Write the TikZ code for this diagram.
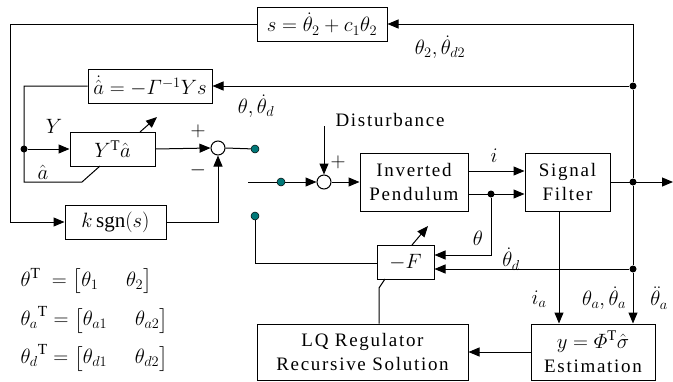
\documentclass[tikz,border=0pt]{standalone}
\usepackage{amsmath}
\usepackage{fontspec}
\setmainfont{Liberation Serif}
\newfontfamily\boxfont[LetterSpace=9]{Liberation Serif}
\usetikzlibrary{arrows.meta}
\definecolor{tealdot}{RGB}{0,120,120}
\tikzset{
  blk/.style={draw, line width=1pt, inner sep=0pt, align=center},
  arr/.style={-{Triangle[length=11pt,width=9pt]}},
  ln/.style={line width=1pt},
  sumc/.style={draw, circle, line width=1pt, minimum size=14pt, inner sep=0pt, fill=white},
  bdot/.style={circle, fill=black, minimum size=7pt, inner sep=0pt},
  tdot/.style={circle, fill=tealdot, draw=black, line width=0.5pt, minimum size=8pt, inner sep=0pt},
  mlab/.style={font=\fontsize{20}{22}\selectfont, inner sep=0pt},
  bmath/.style={font=\fontsize{21}{23}\selectfont},
  btext/.style={font=\boxfont\fontsize{19}{24}\selectfont},
  eqlab/.style={anchor=west, inner sep=0pt, font=\fontsize{22}{24}\selectfont}
}
\begin{document}
\begin{tikzpicture}[x=1pt,y=-1pt, line width=1pt]
\useasboundingbox (0,0) rectangle (673,381);
% boxes
\node[blk, bmath, minimum width=130pt, minimum height=34pt] (sbox) at (322,24) {$s=\dot\theta_2+c_1\theta_2$};
\node[blk, minimum width=124pt, minimum height=34pt, font=\fontsize{20}{22}\selectfont] (abox) at (150,86) {$\dot{\hat a}=-\varGamma^{-1}Ys$};
\node[blk, bmath, minimum width=85pt, minimum height=34pt] (ybox) at (112.5,149) {$Y^{\mathrm T}\hat a$};
\node[blk, bmath, minimum width=101pt, minimum height=34pt] (kbox) at (115.5,222) {$k\,\mathrm{sgn}(s)$};
\node[blk, btext, minimum width=108pt, minimum height=58pt] (ip) at (414,182) {Inverted\\Pendulum};
\node[blk, btext, minimum width=85pt, minimum height=58pt] (sf) at (567.5,182) {Signal\\Filter};
\node[blk, bmath, minimum width=57pt, minimum height=34pt] (fbox) at (405.5,262) {$-F$};
\node[blk, btext, minimum width=211pt, minimum height=56pt] (lq) at (362.5,352) {LQ Regulator\\Recursive Solution};
\node[blk, btext, minimum width=124pt, minimum height=56pt] (est) at (593,352) {\fontsize{21}{23}\selectfont$y=\varPhi^{\mathrm T}\hat\sigma$\\Estimation};
% junctions
\node[sumc] (sum1) at (218,148) {};
\node[sumc] (sum2) at (324,182) {};
\node[bdot] (dA) at (633,86) {};
\node[bdot] (dSF) at (633,182) {};
\node[bdot] (dB) at (633,269) {};
\node[bdot] (dP) at (491,194) {};
\node[bdot] (dY) at (24,149) {};
\coordinate (tR) at (633,24);
\coordinate (out) at (673,182);
\coordinate (dist) at (324,126);
\coordinate (swin) at (248,182);
% feedback top
\draw[ln] (sbox.west) -- (10,24) -- (10,222);
\draw[ln,arr] (10,222) -- (kbox.west);
\draw[ln,arr] (dA) -- (tR) -- (sbox.east);
\draw[ln,arr] (dA) -- (abox.east);
\draw[ln] (dA) -- (dSF) -- (dB);
\draw[ln,arr] (dB) -- (est.north -| dB);
\draw[ln,arr] (sf.east |- dSF) -- (out);
% adaptive part
\draw[ln] (abox.west) -- (24,86) -- (24,182) -- (82,182) -- (100,166);
\draw[ln,arr] (dY) -- (ybox.west);
\draw[ln,arr] (140,132) -- (157,117);
\draw[ln,arr] (ybox.east) -- (sum1.west);
\draw[ln,arr] (kbox.east) -- (218,222) -- (sum1.south);
% switch
\node[tdot] (s1) at (255,149) {};
\node[tdot] (s2) at (281,182) {};
\node[tdot] (s3) at (255,216) {};
\draw[ln] (sum1.east) -- (s1);
\draw[ln] (swin) -- (s2);
\draw[ln,arr] (s2) -- (sum2.west);
\draw[ln,arr] (dist) -- (sum2.north);
\draw[ln,arr] (sum2.east) -- (ip.west);
% plant to filter
\draw[ln,arr] (ip.east |- 0,171) -- (sf.west |- 0,171);
\draw[ln,arr] (ip.east |- dP) -- (sf.west |- dP);
\draw[ln,arr] (dP) -- (491,255) -- (fbox.east |- 0,255);
\draw[ln,arr] (dB) -- (fbox.east |- dB);
\draw[ln] (fbox.west |- 0,263) -- (255,263) -- (s3);
\draw[ln,arr] (412,245) -- (428,226);
\draw[ln,arr] (sf.south -| 559,0) -- (est.north -| 559,0);
\draw[ln,arr] (est.west) -- (lq.east);
\draw[ln] (lq.north -| 379,0) -- (379,288) -- (385,279);
% labels
\node[mlab] at (440,47) {$\theta_2,\dot\theta_{d2}$};
\node[mlab] at (256,106) {$\theta,\dot\theta_d$};
\node[mlab] at (54,126) {$Y$};
\node[mlab] at (43,172) {$\hat a$};
\node[mlab] at (198,131) {$+$};
\node[mlab] at (198,170) {$-$};
\node[btext, inner sep=0pt] at (390,120) {Disturbance};
\node[mlab] at (338,162) {$+$};
\node[mlab] at (494,156) {$i$};
\node[mlab] at (478,238) {$\theta$};
\node[mlab] at (511,259) {$\dot\theta_d$};
\node[mlab] at (539,299) {$i_a$};
\node[mlab] at (604,298) {$\theta_a,\dot\theta_a$};
\node[mlab] at (659,298) {$\ddot\theta_a$};
\node[eqlab] at (20,281) {$\theta^{\mathrm T}\;=\bigl[\theta_1\quad\;\theta_2\bigr]$};
\node[eqlab] at (20,320) {${\theta_a}^{\mathrm T}=\bigl[\theta_{a1}\quad\;\theta_{a2}\bigr]$};
\node[eqlab] at (20,358) {${\theta_d}^{\mathrm T}=\bigl[\theta_{d1}\quad\;\theta_{d2}\bigr]$};
\end{tikzpicture}
\end{document}
